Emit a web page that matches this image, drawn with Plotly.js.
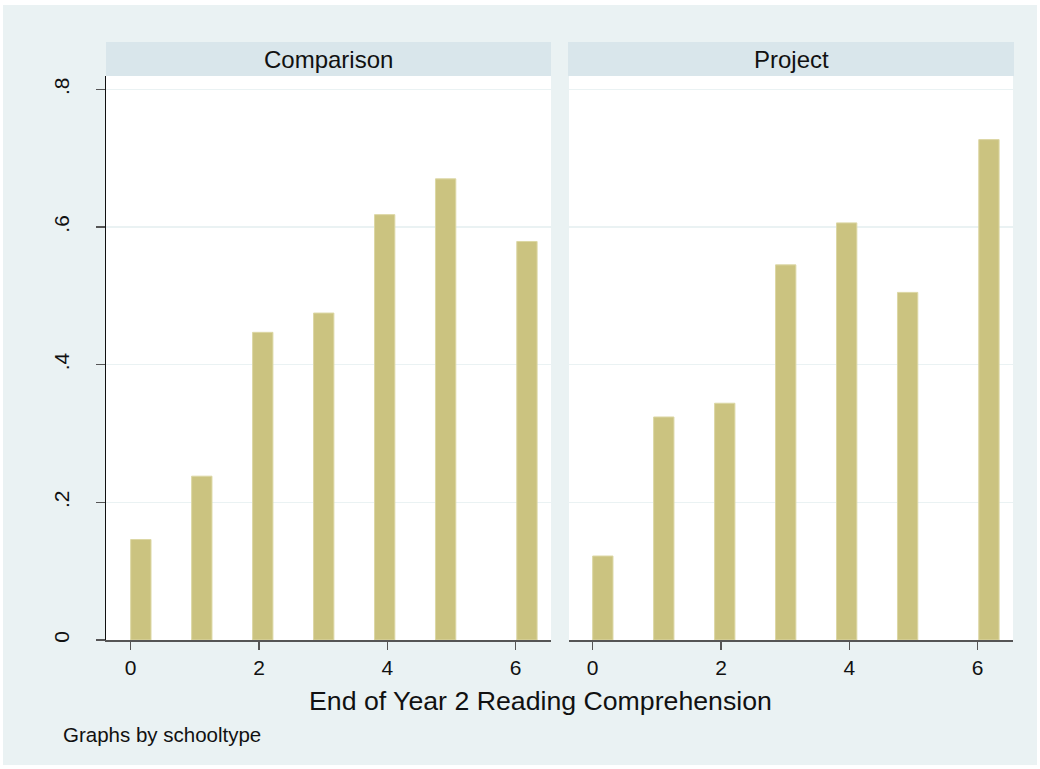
<!DOCTYPE html>
<html>
<head>
<meta charset="utf-8">
<script src="https://cdn.plot.ly/plotly-3.0.1.min.js"></script>
<style>
  html, body { margin: 0; padding: 0; background: #ffffff; }
  #chart { width: 1040px; height: 769px; }
</style>
</head>
<body>
<div id="chart"></div>
<script>
// Histogram of end-of-year-2 reading comprehension, by school type (density scale)
const panels = ["Comparison", "Project"];
const binMid = [0.158, 1.108, 2.058, 3.008, 3.958, 4.908, 6.175];
const binWidth = 0.3167;
const densityComparison = [0.146, 0.238, 0.447, 0.475, 0.618, 0.670, 0.579];
const densityProject = [0.122, 0.324, 0.344, 0.545, 0.606, 0.505, 0.727];
const xTicks = [0, 2, 4, 6];
const xTickText = ["0", "2", "4", "6"];
const yTicks = [0, 0.2, 0.4, 0.6, 0.8];
const yTickText = ["0", ".2", ".4", ".6", ".8"];
const xTitle = "End of Year 2 Reading Comprehension";
const noteText = "Graphs by schooltype";

const W = 1040, H = 769;
const FONT = "Liberation Sans, Arial, Helvetica, sans-serif";
const BG = "#EAF2F3";
const STRIP = "#D9E6EB";
const BAR_FILL = "#CBC380";
const BAR_LINE = "#DCD7A4";

// pixel -> paper helpers
const px = v => v / W;
const py = v => 1 - v / H;

const barStyle = {
  type: "bar",
  width: binWidth,
  marker: { color: BAR_FILL, line: { color: BAR_LINE, width: 1 } },
  hoverinfo: "x+y",
  showlegend: false
};

const traces = [
  Object.assign({}, barStyle, { x: binMid, y: densityComparison, xaxis: "x", yaxis: "y", name: panels[0] }),
  Object.assign({}, barStyle, { x: binMid, y: densityProject, xaxis: "x2", yaxis: "y2", name: panels[1] })
];

const plotTop = 76, plotBottom = 640;
const yRange = [0, 0.8194];

const xCommon = {
  tickmode: "array",
  tickvals: xTicks,
  ticktext: xTickText,
  ticks: "outside",
  ticklen: 8,
  tickwidth: 1.3,
  tickcolor: "#555555",
  showline: true,
  linecolor: "#555555",
  linewidth: 1.5,
  showgrid: false,
  zeroline: false,
  tickfont: { family: FONT, size: 21, color: "#111111" },
  fixedrange: true
};

const yCommon = {
  range: yRange,
  domain: [py(plotBottom), py(plotTop)],
  tickmode: "array",
  tickvals: yTicks,
  showgrid: true,
  gridcolor: BG,
  gridwidth: 1.5,
  zeroline: false,
  fixedrange: true
};

const layout = {
  width: W,
  height: H,
  margin: { l: 0, r: 0, t: 0, b: 0, pad: 0 },
  paper_bgcolor: BG,
  plot_bgcolor: "#ffffff",
  bargap: 0,
  xaxis: Object.assign({}, xCommon, {
    domain: [px(106), px(551)],
    range: [-0.385, 6.55],
    anchor: "y"
  }),
  xaxis2: Object.assign({}, xCommon, {
    domain: [px(569), px(1013)],
    range: [-0.369, 6.55],
    anchor: "y2"
  }),
  yaxis: Object.assign({}, yCommon, {
    anchor: "x",
    ticktext: yTickText,
    ticks: "outside",
    ticklen: 9,
    tickwidth: 1.3,
    tickcolor: "#555555",
    tickangle: -90,
    ticklabelstandoff: 18,
    tickfont: { family: FONT, size: 21, color: "#111111" },
    showline: true,
    linecolor: "#111111",
    linewidth: 1.5
  }),
  yaxis2: Object.assign({}, yCommon, {
    anchor: "x2",
    showticklabels: false,
    ticks: "",
    showline: false
  }),
  shapes: [
    // white outer frame
    { type: "rect", xref: "paper", yref: "paper", x0: 0, x1: 1, y0: py(5), y1: 1, fillcolor: "#ffffff", line: { width: 0 }, layer: "below" },
    { type: "rect", xref: "paper", yref: "paper", x0: 0, x1: px(3), y0: 0, y1: 1, fillcolor: "#ffffff", line: { width: 0 }, layer: "below" },
    { type: "rect", xref: "paper", yref: "paper", x0: px(1037), x1: 1, y0: 0, y1: 1, fillcolor: "#ffffff", line: { width: 0 }, layer: "below" },
    { type: "rect", xref: "paper", yref: "paper", x0: 0, x1: 1, y0: 0, y1: py(765), fillcolor: "#ffffff", line: { width: 0 }, layer: "below" },
    // panel header strips
    { type: "rect", xref: "paper", yref: "paper", x0: px(106), x1: px(551), y0: py(76), y1: py(42), fillcolor: STRIP, line: { width: 0 }, layer: "below" },
    { type: "rect", xref: "paper", yref: "paper", x0: px(568), x1: px(1014), y0: py(76), y1: py(42), fillcolor: STRIP, line: { width: 0 }, layer: "below" }
  ],
  annotations: [
    { text: panels[0], xref: "paper", yref: "paper", x: px(328), y: py(59), xanchor: "center", yanchor: "middle", showarrow: false, font: { family: FONT, size: 24, color: "#111111" } },
    { text: panels[1], xref: "paper", yref: "paper", x: px(791), y: py(59), xanchor: "center", yanchor: "middle", showarrow: false, font: { family: FONT, size: 24, color: "#111111" } },
    { text: xTitle, xref: "paper", yref: "paper", x: px(540.5), y: py(701), xanchor: "center", yanchor: "middle", showarrow: false, font: { family: FONT, size: 26.7, color: "#111111" } },
    { text: noteText, xref: "paper", yref: "paper", x: px(61), y: py(734), xanchor: "left", yanchor: "middle", showarrow: false, font: { family: FONT, size: 20.5, color: "#111111" } }
  ]
};

Plotly.newPlot("chart", traces, layout, { staticPlot: true, displayModeBar: false });
</script>
</body>
</html>
